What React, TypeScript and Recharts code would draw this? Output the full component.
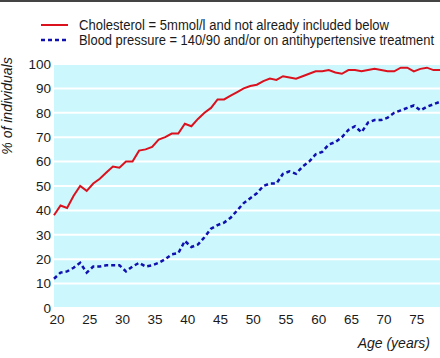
import React from 'react';
import { LineChart, Line, XAxis, YAxis, CartesianGrid } from 'recharts';

const ages = [
  20, 21, 22, 23, 24, 25, 26, 27, 28, 29, 30, 31, 32, 33, 34, 35, 36, 37, 38, 39,
  40, 41, 42, 43, 44, 45, 46, 47, 48, 49, 50, 51, 52, 53, 54, 55, 56, 57, 58, 59,
  60, 61, 62, 63, 64, 65, 66, 67, 68, 69, 70, 71, 72, 73, 74, 75, 76, 77, 78, 79,
];

const cholesterol = [
  38, 42, 41, 46, 50, 48, 51, 53, 55.5, 58, 57.5, 60, 60, 64.5, 65, 66, 69, 70, 71.5, 71.5,
  75.5, 74.5, 77.5, 80, 82, 85.5, 85.5, 87, 88.5, 90, 91, 91.5, 93, 94, 93.5, 95, 94.5, 94, 95, 96,
  97, 97, 97.5, 96.5, 96, 97.5, 97.5, 97, 97.5, 98, 97.5, 97, 97, 98.5, 98.5, 97, 98, 98.5, 97.5, 97.5,
];

const bloodPressure = [
  12, 14.5, 15, 16.5, 18.5, 14.5, 17, 17, 17.5, 17.5, 17.5, 15, 17, 18.5, 17, 17.5, 18.5, 20, 22, 22.5,
  27.5, 25, 26, 29, 32.5, 34, 35, 37, 40, 43, 45, 47, 50, 51, 51, 55, 56, 55, 58, 60,
  63, 64, 67, 68, 70, 73, 74.5, 72, 76, 77, 77, 78, 80, 81, 82, 83, 81, 82.5, 83.5, 84.5,
];

const xTicks = [20, 25, 30, 35, 40, 45, 50, 55, 60, 65, 70, 75];
const yTicks = [0, 10, 20, 30, 40, 50, 60, 70, 80, 90, 100];

const series = [
  { key: 'chol', name: 'Cholesterol = 5mmol/l and not already included below', color: '#dc111e', dash: undefined, width: 2, textWidth: 310 },
  { key: 'bp', name: 'Blood pressure = 140/90 and/or on antihypertensive treatment', color: '#1010b0', dash: '4 3', width: 2.5, textWidth: 355 },
];

const data = ages.map((age, i) => ({ age, chol: cholesterol[i], bp: bloodPressure[i] }));

const FONT = "'Liberation Sans', Arial, sans-serif";
const TEXT = '#1a1a1a';

const LegendBox = () => (
  <svg width={440} height={50} style={{ position: 'absolute', left: 0, top: 0 }}>
    {series.map((s, i) => {
      const y = 25 + i * 15;
      return (
        <g key={s.key}>
          <line x1={41} x2={68} y1={y} y2={y} stroke={s.color} strokeWidth={s.width} strokeDasharray={s.dash} />
          <text
            x={79}
            y={y + 5}
            fontSize={14}
            fill={TEXT}
            fontFamily={FONT}
            textLength={s.textWidth}
            lengthAdjust="spacingAndGlyphs"
          >
            {s.name}
          </text>
        </g>
      );
    })}
  </svg>
);

const App: React.FC = () => {
  return (
    <div style={{ position: 'absolute', left: 0, top: 0, width: 440, height: 358, background: '#fff', fontFamily: FONT }}>
      <LineChart width={440} height={358} data={data} margin={{ top: 64, right: 0, left: 0, bottom: 0 }}>
        <CartesianGrid vertical={false} fill="#ccf7fc" stroke="#ffffff" strokeWidth={2} />
        <XAxis
          dataKey="age"
          type="number"
          domain={[20, 79]}
          ticks={xTicks}
          height={50}
          axisLine={false}
          tickLine={false}
          tickSize={0}
          tickMargin={6}
          interval={0}
          tick={{ fill: TEXT, fontSize: 13.5, fontFamily: FONT, dx: 3 }}
          label={{ value: 'Age (years)', position: 'insideBottomRight', offset: 10, fill: TEXT, fontSize: 14, fontStyle: 'italic', fontFamily: FONT }}
        />
        <YAxis
          type="number"
          domain={[0, 100]}
          ticks={yTicks}
          width={54}
          axisLine={false}
          tickLine={false}
          tickSize={0}
          tickMargin={3}
          interval={0}
          tick={{ fill: TEXT, fontSize: 13.5, fontFamily: FONT }}
          label={{
            content: () => (
              <text
                x={12}
                y={106}
                transform="rotate(-90 12 106)"
                textAnchor="middle"
                fill={TEXT}
                fontSize={14}
                fontStyle="italic"
                fontFamily={FONT}
              >
                % of individuals
              </text>
            ),
          }}
        />
        {series.map((s) => (
          <Line
            key={s.key}
            type="linear"
            dataKey={s.key}
            name={s.name}
            stroke={s.color}
            strokeWidth={s.width}
            strokeDasharray={s.dash}
            dot={false}
            isAnimationActive={false}
          />
        ))}
      </LineChart>
      <LegendBox />
      <div style={{ position: 'absolute', left: 0, top: 0, width: 440, height: 2, background: '#444' }} />
    </div>
  );
};

export default App;
